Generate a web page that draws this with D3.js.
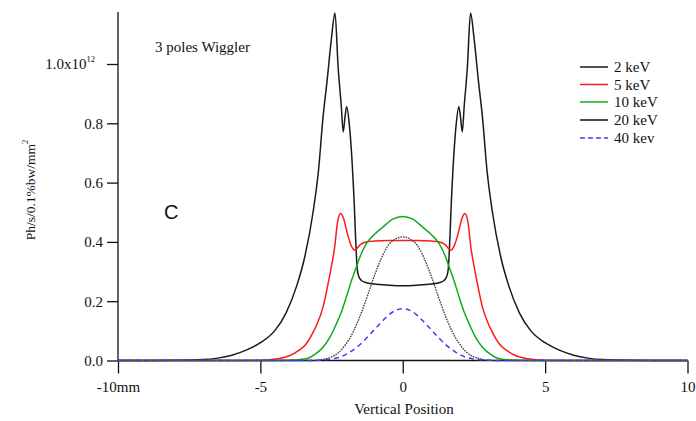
<!DOCTYPE html>
<html>
<head>
<meta charset="utf-8">
<script src="https://cdn.jsdelivr.net/npm/d3@7"></script>
<style>
  html, body { margin: 0; padding: 0; background: #fff; }
  svg { display: block; }
  text { font-family: "Liberation Serif", "DejaVu Serif", serif; fill: #111; }
</style>
</head>
<body>
<svg id="chart" width="696" height="421"></svg>
<script>
// Vertical flux profiles of a 3-pole wiggler at several photon energies.
// Each series: [vertical position (mm), flux (units of 1e12 ph/s/0.1%bw/mm^2)]
const keV2 = [
  [-10,0],[-8,0.0005],[-7,0.003],[-6.5,0.008],[-6,0.018],[-5.5,0.035],[-5,0.06],[-4.5,0.10],
  [-4.1,0.16],[-3.73,0.25],[-3.44,0.35],[-3.15,0.50],[-2.96,0.64],[-2.8,0.82],[-2.65,0.95],
  [-2.5,1.09],[-2.38,1.172],[-2.27,0.99],[-2.16,0.86],[-2.09,0.771],[-2.03,0.82],[-1.97,0.856],
  [-1.88,0.80],[-1.79,0.687],[-1.7,0.52],[-1.65,0.40],[-1.6,0.31],[-1.55,0.285],[-1.45,0.27],
  [-1.3,0.263],[-1,0.258],[-0.5,0.254],[0,0.252],
  [0.5,0.254],[1,0.258],[1.3,0.263],[1.45,0.27],[1.55,0.285],[1.6,0.31],[1.65,0.40],[1.7,0.52],
  [1.79,0.687],[1.88,0.80],[1.97,0.856],[2.03,0.82],[2.09,0.771],[2.16,0.86],[2.27,0.99],
  [2.38,1.172],[2.5,1.09],[2.65,0.95],[2.8,0.82],[2.96,0.64],[3.15,0.50],[3.44,0.35],[3.73,0.25],
  [4.1,0.16],[4.5,0.10],[5,0.06],[5.5,0.035],[6,0.018],[6.5,0.008],[7,0.003],[8,0.0005],[10,0]
];
const keV5 = [
  [-10,0],[-6,0],[-5,0.001],[-4.4,0.006],[-4,0.015],[-3.65,0.034],[-3.4,0.055],[-3.15,0.095],
  [-3,0.125],[-2.8,0.18],[-2.6,0.27],[-2.5,0.32],[-2.39,0.383],[-2.3,0.46],[-2.19,0.496],
  [-2.08,0.48],[-1.95,0.43],[-1.8,0.385],[-1.68,0.372],[-1.5,0.39],[-1.3,0.40],[-1,0.403],
  [-0.5,0.405],[0,0.405],[0.5,0.405],[1,0.403],[1.3,0.40],[1.5,0.39],[1.68,0.372],[1.8,0.385],
  [1.95,0.43],[2.08,0.48],[2.19,0.496],[2.3,0.46],[2.39,0.383],[2.5,0.32],[2.6,0.27],[2.8,0.18],
  [3,0.125],[3.15,0.095],[3.4,0.055],[3.65,0.034],[4,0.015],[4.4,0.006],[5,0.001],[6,0],[10,0]
];
const keV10 = [
  [-10,0],[-5,0],[-4,0.001],[-3.4,0.006],[-3.1,0.02],[-2.8,0.045],[-2.55,0.08],[-2.33,0.124],
  [-2.15,0.165],[-1.98,0.214],[-1.8,0.27],[-1.63,0.315],[-1.5,0.35],[-1.28,0.394],[-1,0.425],
  [-0.7,0.45],[-0.35,0.477],[0,0.486],[0.35,0.477],[0.7,0.45],[1,0.425],[1.28,0.394],[1.5,0.35],
  [1.63,0.315],[1.8,0.27],[1.98,0.214],[2.15,0.165],[2.33,0.124],[2.55,0.08],[2.8,0.045],
  [3.1,0.02],[3.4,0.006],[4,0.001],[5,0],[10,0]
];
const keV20 = [
  [-10,0],[-3.2,0],[-2.8,0.004],[-2.5,0.012],[-2.25,0.027],[-2,0.055],[-1.75,0.095],[-1.5,0.15],
  [-1.25,0.215],[-1,0.285],[-0.75,0.345],[-0.5,0.39],[-0.25,0.41],[0,0.417],[0.25,0.41],
  [0.5,0.39],[0.75,0.345],[1,0.285],[1.25,0.215],[1.5,0.15],[1.75,0.095],[2,0.055],[2.25,0.027],
  [2.5,0.012],[2.8,0.004],[3.2,0],[10,0]
];
const keV40 = [
  [-10,0],[-3.5,0],[-3,0.001],[-2.5,0.005],[-2.25,0.01],[-2,0.02],[-1.75,0.035],[-1.5,0.054],
  [-1.25,0.078],[-1,0.104],[-0.8,0.124],[-0.5,0.153],[-0.25,0.169],[0,0.175],[0.25,0.169],
  [0.5,0.153],[0.8,0.124],[1,0.104],[1.25,0.078],[1.5,0.054],[1.75,0.035],[2,0.02],[2.25,0.01],
  [2.5,0.005],[3,0.001],[3.5,0],[10,0]
];

const seriesNames = ["2 keV", "5 keV", "10 keV", "20 keV", "40 kev"];
const xTicks = [-10, -5, 0, 5, 10];
const xTickLabels = ["-10mm", "-5", "0", "5", "10"];
const yTicks = [0, 0.2, 0.4, 0.6, 0.8, 1.0];
const yTickLabels = ["0.0", "0.2", "0.4", "0.6", "0.8", "1.0x10"];

const series = [
  { name: seriesNames[0], data: keV2,  color: "#1a1a1a", width: 1.5, dash: null,    legendDash: null },
  { name: seriesNames[1], data: keV5,  color: "#ff1a1a", width: 1.5, dash: null,    legendDash: null },
  { name: seriesNames[2], data: keV10, color: "#11aa22", width: 1.5, dash: null,    legendDash: null },
  { name: seriesNames[3], data: keV20, color: "#3a3a3a", width: 1.3, dash: "1.6,1", legendDash: null },
  { name: seriesNames[4], data: keV40, color: "#4b33ff", width: 1.5, dash: "5,4",   legendDash: "5,3" }
];

const svg = d3.select("#chart");

const x = d3.scaleLinear().domain([-10, 10]).range([118, 687.5]);
const y = d3.scaleLinear().domain([0, 1]).range([360.5, 64]);
const yTop = 12;
const tickFont = 15;

// Axes
const xAxis = d3.axisBottom(x)
  .tickValues(xTicks)
  .tickSize(13)
  .tickPadding(8)
  .tickFormat((d, i) => xTickLabels[i]);
const gx = svg.append("g").attr("transform", `translate(0,${y(0)})`).call(xAxis);
gx.select(".domain").attr("d", `M${x(-10)},0H${x(10)}`).attr("stroke", "#111").attr("stroke-width", 1.3);
gx.selectAll(".tick line").attr("stroke", "#111").attr("stroke-width", 1.3);
gx.selectAll(".tick text")
  .attr("font-family", "Liberation Serif, serif")
  .attr("font-size", tickFont)
  .attr("fill", "#111");

const yAxis = d3.axisLeft(y)
  .tickValues(yTicks)
  .tickSize(11)
  .tickPadding(4)
  .tickFormat((d, i) => yTickLabels[i]);
const gy = svg.append("g").attr("transform", `translate(${x(-10)},0)`).call(yAxis);
gy.select(".domain").attr("d", `M0,${yTop}V${y(0)}`).attr("stroke", "#111").attr("stroke-width", 1.3);
gy.selectAll(".tick line").attr("stroke", "#111").attr("stroke-width", 1.3);
gy.selectAll(".tick text")
  .attr("font-family", "Liberation Serif, serif")
  .attr("font-size", tickFont)
  .attr("fill", "#111");
// exponent on the top tick label
gy.selectAll(".tick text").filter(d => d === 1.0)
  .attr("dx", "-8")
  .append("tspan")
  .attr("dy", "-7")
  .attr("font-size", 8.5)
  .text("12");

// Curves
const line = d3.line()
  .x(d => x(d[0]))
  .y(d => y(d[1]))
  .curve(d3.curveMonotoneX);

svg.append("g")
  .selectAll("path")
  .data(series)
  .join("path")
  .attr("d", d => line(d.data))
  .attr("fill", "none")
  .attr("stroke", d => d.color)
  .attr("stroke-width", d => d.width)
  .attr("stroke-dasharray", d => d.dash)
  .attr("stroke-linejoin", "round");

// Legend
const legend = svg.append("g");
const legendRows = [67, 84.5, 102, 120, 138];
series.forEach((s, i) => {
  const ly = legendRows[i];
  legend.append("line")
    .attr("x1", 580).attr("x2", 608)
    .attr("y1", ly).attr("y2", ly)
    .attr("stroke", i === 3 ? "#111" : s.color)
    .attr("stroke-width", 1.5)
    .attr("stroke-dasharray", s.legendDash);
  legend.append("text")
    .attr("x", 614).attr("y", ly + 5)
    .attr("font-size", 15)
    .text(s.name);
});

// Titles and annotations
svg.append("text")
  .attr("x", 155).attr("y", 52)
  .attr("font-size", 15)
  .text("3 poles Wiggler");

svg.append("text")
  .attr("x", 164).attr("y", 219)
  .style("font-family", "Liberation Sans, Arial, sans-serif")
  .attr("font-size", 20)
  .text("C");

svg.append("text")
  .attr("x", 404).attr("y", 414)
  .attr("text-anchor", "middle")
  .attr("font-size", 15)
  .text("Vertical Position");

const yTitle = svg.append("text")
  .attr("transform", "translate(35,190) rotate(-90)")
  .attr("text-anchor", "middle")
  .attr("font-size", 13.5);
yTitle.append("tspan").text("Ph/s/0.1%bw/mm");
yTitle.append("tspan").attr("dy", -7).attr("font-size", 8.5).text("2");
</script>
</body>
</html>
